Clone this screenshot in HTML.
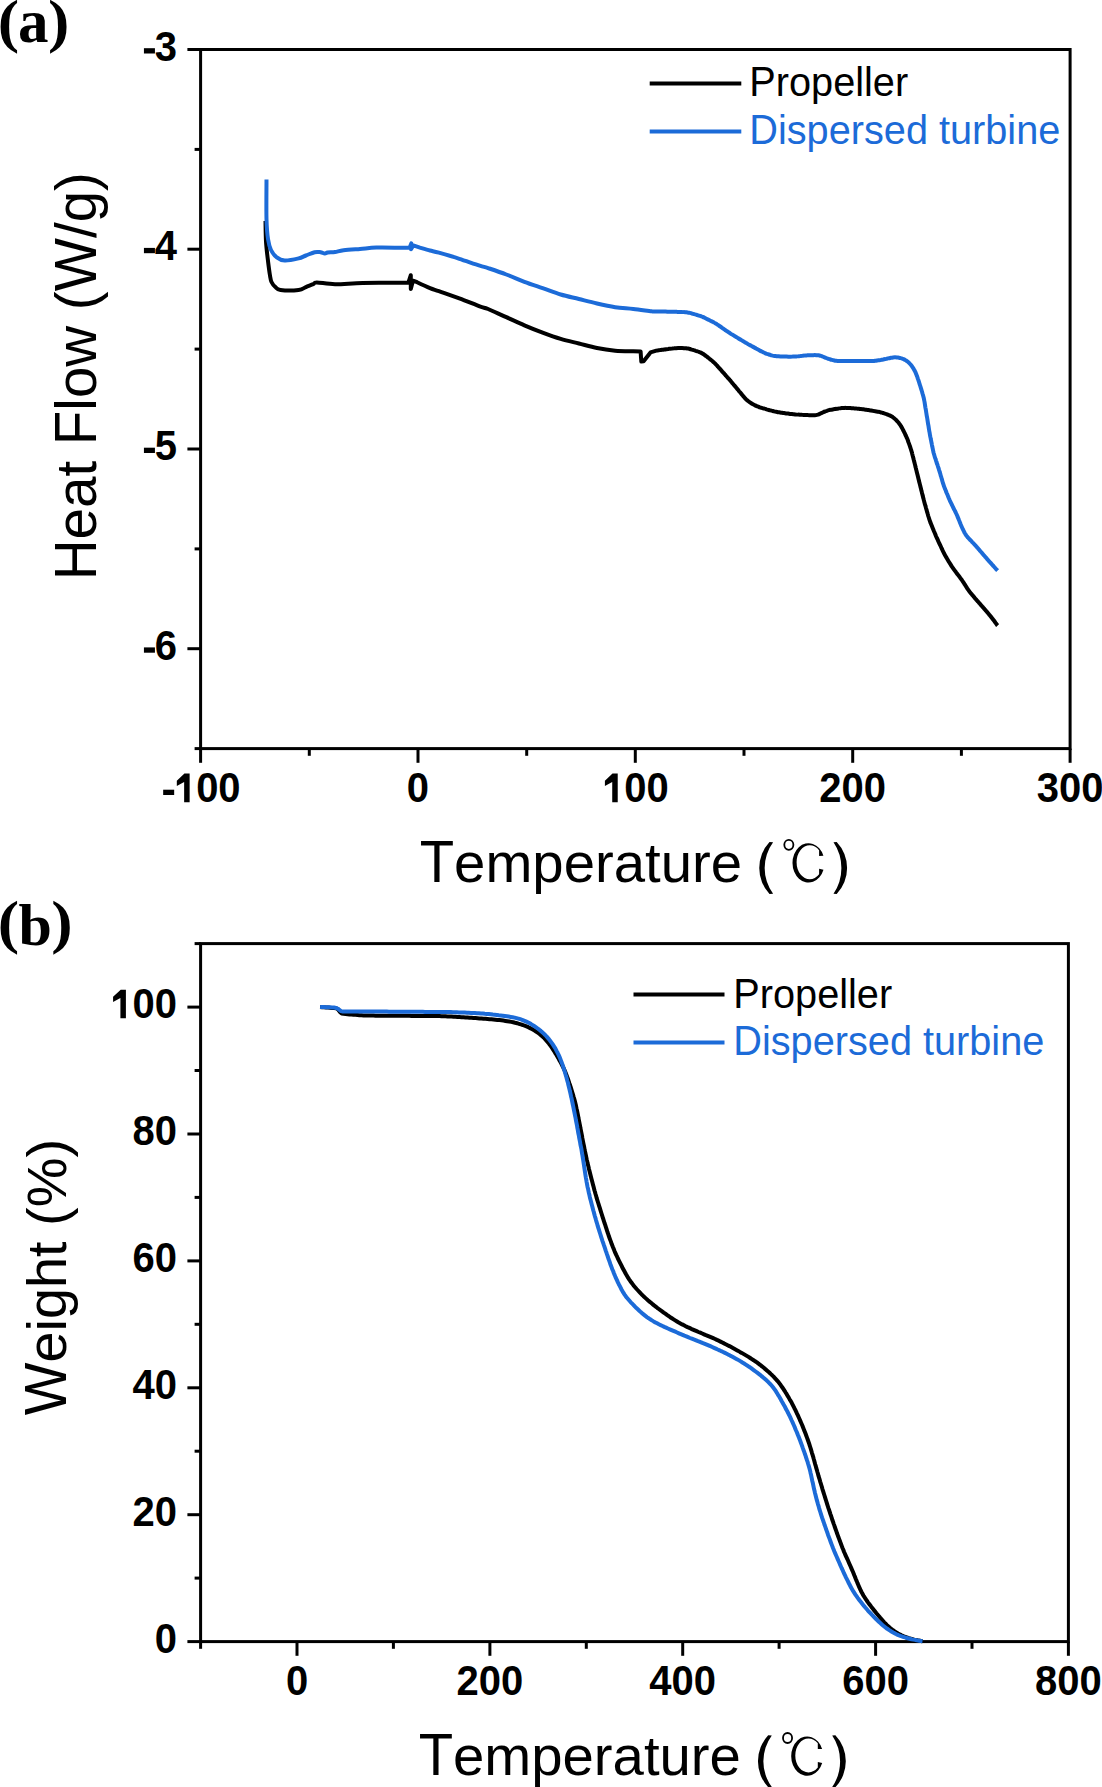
<!DOCTYPE html>
<html><head><meta charset="utf-8"><title>Figure</title>
<style>
html,body{margin:0;padding:0;background:#fff;}
body{width:1102px;height:1787px;overflow:hidden;}
svg{display:block;}
.t{stroke:#000;stroke-width:3;}
.c{fill:none;stroke-width:4;stroke-linejoin:round;stroke-linecap:butt;}
.tl{font-family:"Liberation Sans",sans-serif;font-weight:bold;font-size:40px;fill:#000;}
.lg{font-family:"Liberation Sans",sans-serif;font-size:39.6px;fill:#000;font-kerning:none;}
.lb{fill:#1c6bd8;}
.at{font-family:"Liberation Sans",sans-serif;font-size:56.3px;fill:#000;font-kerning:none;}
.at2{font-family:"Liberation Sans",sans-serif;font-size:56.2px;fill:#000;}
.pl{font-family:"Liberation Serif",serif;font-weight:bold;font-size:60px;fill:#000;}
.pl2{font-size:61px;}
</style></head>
<body>
<svg width="1102" height="1787" viewBox="0 0 1102 1787">
<rect x="200.6" y="49.5" width="869.5" height="699.1" fill="none" stroke="#000" stroke-width="3"/>
<line x1="200.6" y1="748.6" x2="200.6" y2="762.8000000000001" class="t"/>
<line x1="418.0" y1="748.6" x2="418.0" y2="762.8000000000001" class="t"/>
<line x1="635.3" y1="748.6" x2="635.3" y2="762.8000000000001" class="t"/>
<line x1="852.7" y1="748.6" x2="852.7" y2="762.8000000000001" class="t"/>
<line x1="1070.1" y1="748.6" x2="1070.1" y2="762.8000000000001" class="t"/>
<line x1="309.3" y1="748.6" x2="309.3" y2="755.8000000000001" class="t"/>
<line x1="526.7" y1="748.6" x2="526.7" y2="755.8000000000001" class="t"/>
<line x1="744.0" y1="748.6" x2="744.0" y2="755.8000000000001" class="t"/>
<line x1="961.4" y1="748.6" x2="961.4" y2="755.8000000000001" class="t"/>
<line x1="187.4" y1="49.5" x2="200.6" y2="49.5" class="t"/>
<line x1="187.4" y1="249.2" x2="200.6" y2="249.2" class="t"/>
<line x1="187.4" y1="449.0" x2="200.6" y2="449.0" class="t"/>
<line x1="187.4" y1="648.7" x2="200.6" y2="648.7" class="t"/>
<line x1="194.6" y1="149.4" x2="200.6" y2="149.4" class="t"/>
<line x1="194.6" y1="349.1" x2="200.6" y2="349.1" class="t"/>
<line x1="194.6" y1="548.9" x2="200.6" y2="548.9" class="t"/>
<line x1="194.6" y1="748.6" x2="200.6" y2="748.6" class="t"/>
<g transform="translate(0 802.2) scale(1 1.04) translate(0 -802.2)"><rect x="163.17" y="790.18" width="11" height="5.10"/><path d="M525,0 L525,1000 L150,803 L150,1058 L540,1409 L806,1409 L806,0 Z" transform="translate(173.89 802.2) scale(0.019531 -0.019531)"/><text x="196.14" y="802.2" class="tl">00</text></g>
<g transform="translate(0 802.2) scale(1 1.04) translate(0 -802.2)"><text x="406.85" y="802.2" class="tl">0</text></g>
<g transform="translate(0 802.2) scale(1 1.04) translate(0 -802.2)"><path d="M525,0 L525,1000 L150,803 L150,1058 L540,1409 L806,1409 L806,0 Z" transform="translate(601.98 802.2) scale(0.019531 -0.019531)"/><text x="624.23" y="802.2" class="tl">00</text></g>
<g transform="translate(0 802.2) scale(1 1.04) translate(0 -802.2)"><text x="819.36" y="802.2" class="tl">200</text></g>
<g transform="translate(0 802.2) scale(1 1.04) translate(0 -802.2)"><text x="1036.73" y="802.2" class="tl">300</text></g>
<g transform="translate(0 60.7) scale(1 1.04) translate(0 -60.7)"><rect x="143.93" y="48.68" width="11" height="5.10"/><text x="154.65" y="60.7" class="tl">3</text></g>
<g transform="translate(0 260.4) scale(1 1.04) translate(0 -260.4)"><rect x="143.93" y="248.38" width="11" height="5.10"/><text x="154.65" y="260.4" class="tl">4</text></g>
<g transform="translate(0 460.2) scale(1 1.04) translate(0 -460.2)"><rect x="143.93" y="448.18" width="11" height="5.10"/><text x="154.65" y="460.2" class="tl">5</text></g>
<g transform="translate(0 659.9) scale(1 1.04) translate(0 -659.9)"><rect x="143.93" y="647.88" width="11" height="5.10"/><text x="154.65" y="659.9" class="tl">6</text></g>
<path d="M265.5,221.0 C265.6,224.4 265.6,234.7 266.0,241.3 C266.4,248.0 267.3,255.2 268.0,260.9 C268.7,266.6 269.4,272.0 270.0,275.5 C270.6,279.0 270.6,280.1 271.5,282.0 C272.4,283.9 273.9,285.8 275.4,287.1 C276.9,288.4 276.6,289.5 280.5,290.0 C284.4,290.5 294.4,290.5 298.6,290.0 C302.8,289.5 303.5,288.1 305.9,287.1 C308.3,286.1 311.4,285.0 313.2,284.2 C315.0,283.4 313.2,282.4 316.8,282.4 C320.4,282.4 327.4,284.1 335.0,284.2 C342.6,284.3 351.9,283.2 362.7,283.0 C373.5,282.8 393.8,282.8 400.0,282.7 L408.4,282.7 L410.8,275.2 L410.8,289.0 L413.0,280.6 L417.1,282.2 C419.2,283.2 426.4,286.6 430.0,288.1 C433.6,289.6 434.0,289.5 438.9,291.2 C443.8,292.9 452.5,295.8 459.3,298.3 C466.1,300.8 474.9,304.6 479.7,306.4 C484.5,308.2 483.7,307.2 488.1,309.0 C492.5,310.8 500.2,314.5 506.3,317.2 C512.4,319.9 518.4,322.7 524.4,325.3 C530.4,327.9 536.5,330.3 542.6,332.6 C548.7,334.9 554.7,337.1 560.7,338.9 C566.8,340.7 572.9,342.0 578.9,343.5 C584.9,345.0 591.0,346.8 597.0,348.0 C603.0,349.2 609.2,350.1 615.2,350.7 C621.2,351.2 630.3,351.2 633.3,351.3 L640.6,351.4 L641.3,361.5 L643.6,361.3 L650.5,352.4 L656.3,350.6 C656.7,350.5 658.0,350.4 658.7,350.3 C659.4,350.2 659.8,350.1 660.4,350.0 C661.0,350.0 661.6,349.9 662.3,349.8 C662.9,349.7 663.6,349.6 664.2,349.5 C664.9,349.4 665.6,349.3 666.2,349.2 C666.9,349.1 667.5,349.0 668.2,349.0 C668.9,348.9 669.5,348.8 670.2,348.7 C670.8,348.6 671.5,348.5 672.2,348.5 C672.8,348.4 673.5,348.3 674.2,348.3 C674.8,348.2 675.5,348.2 676.1,348.2 C676.8,348.1 677.5,348.1 678.1,348.1 C678.8,348.1 679.5,348.1 680.1,348.1 C680.8,348.1 681.5,348.1 682.1,348.1 C682.8,348.1 683.5,348.1 684.1,348.2 C684.8,348.2 685.5,348.2 686.1,348.3 C686.8,348.4 687.4,348.5 688.1,348.6 C688.7,348.7 689.4,348.9 690.0,349.0 C690.6,349.2 691.3,349.4 691.9,349.6 C692.6,349.8 693.2,350.0 693.8,350.2 C694.5,350.4 695.1,350.6 695.7,350.8 C696.4,351.0 697.0,351.2 697.6,351.4 C698.3,351.6 698.9,351.8 699.5,352.1 C700.1,352.3 700.7,352.6 701.3,352.9 C701.9,353.2 702.5,353.5 703.0,353.9 C703.6,354.2 704.1,354.6 704.6,355.0 C705.2,355.4 705.7,355.8 706.2,356.2 C706.8,356.6 707.3,357.0 707.8,357.4 C708.3,357.8 708.9,358.2 709.4,358.7 C709.9,359.1 710.4,359.5 710.9,359.9 C711.5,360.3 712.0,360.7 712.5,361.2 C713.0,361.6 713.5,362.0 714.0,362.5 C714.5,362.9 714.9,363.4 715.4,363.9 C715.9,364.4 716.3,364.8 716.8,365.3 C717.2,365.8 717.7,366.3 718.1,366.8 C718.6,367.3 719.0,367.8 719.5,368.3 C719.9,368.8 720.4,369.3 720.8,369.8 C721.2,370.3 721.7,370.8 722.1,371.3 C722.6,371.8 723.0,372.3 723.5,372.8 C723.9,373.3 724.3,373.8 724.8,374.3 C725.2,374.8 725.7,375.3 726.1,375.8 C726.6,376.3 727.0,376.8 727.4,377.3 C727.9,377.8 728.3,378.3 728.8,378.8 C729.2,379.3 729.6,379.8 730.1,380.3 C730.5,380.8 730.9,381.3 731.3,381.8 C731.8,382.3 732.2,382.9 732.6,383.4 C733.1,383.9 733.5,384.4 733.9,384.9 C734.3,385.4 734.8,385.9 735.2,386.4 C735.6,387.0 736.1,387.5 736.5,388.0 C736.9,388.5 737.3,389.0 737.8,389.5 C738.2,390.0 738.6,390.5 739.0,391.1 C739.5,391.6 739.9,392.1 740.3,392.6 C740.7,393.1 741.2,393.6 741.6,394.1 C742.0,394.7 742.4,395.2 742.9,395.7 C743.3,396.2 743.7,396.7 744.2,397.2 C744.6,397.7 745.0,398.2 745.5,398.7 C745.9,399.2 746.4,399.6 746.9,400.1 C747.4,400.5 747.9,400.9 748.4,401.3 C748.9,401.7 749.5,402.1 750.0,402.5 C750.6,402.8 751.2,403.2 751.7,403.5 C752.3,403.9 752.9,404.2 753.5,404.5 C754.0,404.9 754.6,405.2 755.2,405.5 C755.8,405.7 756.4,406.0 757.0,406.3 C757.6,406.5 758.3,406.7 758.9,407.0 C759.5,407.2 760.2,407.4 760.8,407.6 C761.4,407.8 762.1,408.0 762.7,408.2 C763.3,408.3 764.0,408.5 764.6,408.7 C765.3,408.9 765.9,409.1 766.5,409.3 C767.2,409.5 767.8,409.7 768.5,409.9 C769.1,410.1 769.7,410.2 770.4,410.4 C771.0,410.6 771.7,410.8 772.3,410.9 C773.0,411.1 773.6,411.3 774.2,411.4 C774.9,411.6 775.5,411.7 776.2,411.8 C776.9,411.9 777.5,412.1 778.2,412.2 C778.8,412.3 779.5,412.4 780.1,412.5 C780.8,412.6 781.5,412.7 782.1,412.8 C782.8,412.9 783.4,413.0 784.1,413.1 C784.8,413.2 785.4,413.3 786.1,413.4 C786.7,413.5 787.4,413.6 788.1,413.6 C788.7,413.7 789.4,413.8 790.0,413.9 C790.7,414.0 791.4,414.1 792.0,414.1 C792.7,414.2 793.4,414.3 794.0,414.3 C794.7,414.4 795.4,414.4 796.0,414.5 C796.7,414.5 797.4,414.5 798.0,414.6 C798.7,414.6 799.3,414.6 800.0,414.7 C800.7,414.7 801.3,414.7 802.0,414.8 C802.7,414.8 803.3,414.8 804.0,414.9 C804.7,414.9 805.3,414.9 806.0,415.0 C806.7,415.0 807.3,415.0 808.0,415.1 C808.7,415.1 809.3,415.2 810.0,415.2 C810.7,415.2 811.3,415.3 812.0,415.3 C812.7,415.3 813.3,415.3 814.0,415.3 C814.6,415.3 815.3,415.2 815.9,415.1 C816.5,415.0 817.1,414.9 817.8,414.7 C818.4,414.5 819.0,414.2 819.6,414.0 C820.2,413.7 820.8,413.4 821.4,413.2 C822.0,412.9 822.6,412.6 823.2,412.3 C823.8,412.0 824.4,411.7 825.0,411.5 C825.6,411.2 826.2,411.0 826.9,410.8 C827.5,410.6 828.1,410.4 828.8,410.2 C829.4,410.0 830.1,409.9 830.7,409.8 C831.4,409.6 832.0,409.5 832.7,409.4 C833.3,409.3 834.0,409.2 834.6,409.1 C835.3,409.0 836.0,408.9 836.6,408.8 C837.3,408.6 837.9,408.5 838.6,408.4 C839.2,408.3 839.9,408.2 840.6,408.2 C841.2,408.1 841.9,408.0 842.5,407.9 C843.2,407.9 843.9,407.9 844.5,407.9 C845.2,407.8 845.9,407.9 846.5,407.9 C847.2,407.9 847.9,407.9 848.5,408.0 C849.2,408.0 849.8,408.1 850.5,408.1 C851.2,408.2 851.8,408.2 852.5,408.3 C853.2,408.3 853.8,408.4 854.5,408.4 C855.2,408.5 855.8,408.5 856.5,408.6 C857.2,408.6 857.8,408.7 858.5,408.7 C859.2,408.8 859.8,408.9 860.5,408.9 C861.1,409.0 861.8,409.1 862.5,409.2 C863.1,409.3 863.8,409.4 864.4,409.5 C865.1,409.6 865.8,409.7 866.4,409.8 C867.1,409.9 867.7,410.0 868.4,410.1 C869.1,410.2 869.7,410.3 870.4,410.4 C871.0,410.5 871.7,410.6 872.3,410.7 C873.0,410.9 873.7,411.0 874.3,411.1 C875.0,411.2 875.6,411.3 876.3,411.4 C876.9,411.5 877.6,411.6 878.3,411.8 C878.9,411.9 879.6,412.0 880.2,412.2 C880.9,412.3 881.5,412.5 882.1,412.7 C882.8,412.8 883.4,413.0 884.0,413.3 C884.7,413.5 885.3,413.7 885.9,413.9 C886.6,414.1 887.2,414.4 887.8,414.6 C888.4,414.9 889.0,415.1 889.6,415.4 C890.2,415.7 890.8,415.9 891.4,416.3 C892.0,416.6 892.5,416.9 893.0,417.3 C893.6,417.7 894.1,418.1 894.6,418.6 C895.0,419.0 895.5,419.5 896.0,419.9 C896.5,420.4 896.9,420.9 897.4,421.4 C897.8,421.8 898.3,422.3 898.7,422.8 C899.1,423.4 899.5,423.9 899.9,424.4 C900.3,424.9 900.6,425.5 901.0,426.1 C901.3,426.6 901.6,427.2 902.0,427.8 C902.3,428.4 902.6,429.0 902.9,429.6 C903.2,430.2 903.5,430.8 903.8,431.4 C904.1,432.0 904.4,432.6 904.7,433.2 C905.0,433.8 905.3,434.4 905.5,435.0 C905.8,435.6 906.1,436.2 906.4,436.8 C906.6,437.4 906.9,438.0 907.2,438.6 C907.4,439.2 907.6,439.9 907.9,440.5 C908.1,441.1 908.3,441.7 908.5,442.4 C908.8,443.0 909.0,443.6 909.2,444.2 C909.4,444.9 909.7,445.5 909.9,446.1 C910.1,446.8 910.3,447.4 910.5,448.0 C910.7,448.7 910.9,449.3 911.1,449.9 C911.3,450.6 911.5,451.2 911.7,451.8 C911.9,452.5 912.1,453.1 912.2,453.8 C912.4,454.4 912.6,455.1 912.7,455.7 C912.9,456.4 913.1,457.0 913.2,457.7 C913.4,458.3 913.5,458.9 913.7,459.6 C913.9,460.2 914.0,460.9 914.2,461.5 C914.4,462.2 914.5,462.8 914.7,463.5 C914.8,464.1 915.0,464.8 915.2,465.4 C915.3,466.1 915.5,466.7 915.6,467.4 C915.8,468.0 916.0,468.7 916.1,469.3 C916.3,470.0 916.4,470.6 916.6,471.2 C916.8,471.9 916.9,472.5 917.1,473.2 C917.2,473.8 917.4,474.5 917.6,475.1 C917.7,475.8 917.9,476.4 918.1,477.1 C918.2,477.7 918.4,478.4 918.5,479.0 C918.7,479.7 918.9,480.3 919.0,481.0 C919.2,481.6 919.3,482.3 919.5,482.9 C919.7,483.5 919.8,484.2 920.0,484.8 C920.1,485.5 920.3,486.1 920.5,486.8 C920.6,487.4 920.8,488.1 921.0,488.7 C921.1,489.4 921.3,490.0 921.4,490.7 C921.6,491.3 921.8,492.0 921.9,492.6 C922.1,493.3 922.3,493.9 922.4,494.5 C922.6,495.2 922.7,495.8 922.9,496.5 C923.1,497.1 923.2,497.8 923.4,498.4 C923.6,499.1 923.7,499.7 923.9,500.4 C924.1,501.0 924.2,501.7 924.4,502.3 C924.6,502.9 924.7,503.6 924.9,504.2 C925.1,504.9 925.3,505.5 925.5,506.2 C925.7,506.8 925.8,507.4 926.0,508.1 C926.2,508.7 926.4,509.4 926.6,510.0 C926.8,510.6 926.9,511.3 927.1,511.9 C927.3,512.6 927.5,513.2 927.7,513.9 C927.9,514.5 928.0,515.1 928.2,515.8 C928.4,516.4 928.6,517.1 928.8,517.7 C929.0,518.3 929.2,519.0 929.4,519.6 C929.6,520.2 929.8,520.9 930.1,521.5 C930.3,522.1 930.5,522.7 930.8,523.4 C931.0,524.0 931.3,524.6 931.5,525.2 C931.8,525.8 932.0,526.4 932.3,527.1 C932.5,527.7 932.8,528.3 933.0,528.9 C933.3,529.5 933.5,530.1 933.8,530.8 C934.1,531.4 934.3,532.0 934.6,532.6 C934.8,533.2 935.1,533.8 935.4,534.5 C935.6,535.1 935.9,535.7 936.1,536.3 C936.4,536.9 936.7,537.5 936.9,538.1 C937.2,538.7 937.5,539.3 937.8,539.9 C938.0,540.6 938.3,541.2 938.6,541.8 C938.9,542.4 939.2,543.0 939.4,543.6 C939.7,544.2 940.0,544.8 940.3,545.4 C940.6,546.0 940.8,546.6 941.1,547.2 C941.4,547.8 941.7,548.4 942.0,549.0 C942.3,549.6 942.5,550.2 942.8,550.8 C943.1,551.4 943.4,552.0 943.7,552.6 C944.0,553.2 944.3,553.8 944.6,554.4 C944.9,555.0 945.2,555.6 945.6,556.2 C945.9,556.7 946.2,557.3 946.6,557.9 C946.9,558.5 947.3,559.0 947.6,559.6 C947.9,560.2 948.3,560.8 948.6,561.3 C949.0,561.9 949.3,562.5 949.7,563.0 C950.0,563.6 950.4,564.2 950.7,564.7 C951.1,565.3 951.4,565.9 951.8,566.4 C952.2,567.0 952.5,567.5 952.9,568.1 C953.3,568.6 953.7,569.2 954.1,569.7 C954.5,570.3 954.9,570.8 955.3,571.3 C955.7,571.8 956.1,572.4 956.5,572.9 C956.9,573.4 957.3,574.0 957.7,574.5 C958.1,575.0 958.5,575.5 958.9,576.1 C959.3,576.6 959.7,577.1 960.1,577.7 C960.5,578.2 960.9,578.7 961.3,579.3 C961.7,579.8 962.1,580.4 962.5,580.9 C962.8,581.5 963.2,582.0 963.6,582.6 C963.9,583.1 964.3,583.7 964.6,584.3 C965.0,584.8 965.3,585.4 965.7,586.0 C966.1,586.5 966.4,587.1 966.8,587.7 C967.1,588.2 967.5,588.8 967.9,589.3 C968.3,589.9 968.6,590.4 969.0,590.9 C969.4,591.5 969.8,592.0 970.2,592.5 C970.7,593.1 971.1,593.6 971.5,594.1 C971.9,594.6 972.4,595.1 972.8,595.6 C973.2,596.1 973.7,596.6 974.1,597.1 C974.5,597.6 975.0,598.2 975.4,598.7 C975.8,599.2 976.3,599.7 976.7,600.2 C977.1,600.7 977.6,601.2 978.0,601.7 C978.5,602.2 978.9,602.7 979.3,603.2 C979.8,603.7 980.2,604.2 980.7,604.7 C981.1,605.2 981.5,605.7 982.0,606.2 C982.4,606.7 982.9,607.2 983.3,607.7 C983.7,608.2 984.2,608.7 984.6,609.2 C985.0,609.7 985.5,610.2 985.9,610.7 C986.3,611.2 986.8,611.7 987.2,612.2 C987.6,612.8 988.1,613.3 988.5,613.8 C988.9,614.3 989.4,614.8 989.8,615.3 C990.2,615.8 990.6,616.3 991.1,616.9 C991.5,617.4 991.9,617.9 992.3,618.4 C992.7,618.9 993.1,619.5 993.5,620.0 C993.9,620.5 994.3,621.1 994.7,621.6 C995.0,622.1 995.4,622.6 995.7,623.0 C996.1,623.5 996.3,623.8 996.6,624.3 C996.9,624.7 997.4,625.5 997.6,625.7" class="c" stroke="#000"/>
<path d="M266.5,179.5 C266.5,186.2 266.2,209.6 266.5,219.5 C266.8,229.4 267.2,233.9 268.0,239.0 C268.8,244.1 269.5,246.9 271.0,250.0 C272.5,253.1 274.5,255.6 276.8,257.3 C279.1,259.1 281.2,260.3 284.8,260.5 C288.4,260.7 295.1,259.2 298.6,258.4 C302.1,257.6 303.2,256.5 305.9,255.5 C308.6,254.5 312.2,252.8 314.6,252.2 C317.0,251.6 318.8,252.0 320.5,252.2 C322.2,252.4 323.6,253.5 324.8,253.6 C326.0,253.7 326.0,252.8 327.7,252.5 C329.4,252.2 332.4,252.4 335.0,252.0 C337.6,251.6 339.4,250.7 343.6,250.2 C347.8,249.7 354.6,249.3 360.0,248.9 C365.4,248.5 369.6,247.8 376.3,247.6 C383.0,247.4 396.1,247.7 400.0,247.7 L409.6,247.7 L411.3,243.4 L411.0,249.2 L413.3,245.4 L420.0,247.6 C421.7,248.1 426.9,249.7 430.0,250.5 C433.1,251.3 434.0,251.3 438.9,252.7 C443.8,254.1 452.5,256.6 459.3,258.8 C466.1,261.0 474.9,264.1 479.7,265.6 C484.5,267.2 483.7,266.6 488.1,268.1 C492.5,269.6 500.2,272.2 506.3,274.5 C512.4,276.8 518.4,279.5 524.4,281.8 C530.4,284.1 536.5,286.0 542.6,288.1 C548.7,290.2 554.7,292.7 560.7,294.5 C566.8,296.3 572.9,297.5 578.9,299.0 C584.9,300.5 591.0,302.1 597.0,303.5 C603.0,304.9 609.2,306.3 615.2,307.2 C621.2,308.1 627.2,308.3 633.3,309.0 C639.3,309.7 648.1,310.9 651.5,311.3 C654.9,311.7 653.3,311.3 653.9,311.4 C654.6,311.4 655.0,311.4 655.6,311.4 C656.2,311.4 656.9,311.4 657.5,311.4 C658.2,311.4 658.8,311.5 659.5,311.5 C660.2,311.5 660.8,311.5 661.5,311.5 C662.2,311.5 662.8,311.6 663.5,311.6 C664.2,311.6 664.8,311.6 665.5,311.6 C666.2,311.6 666.9,311.6 667.5,311.7 C668.2,311.7 668.9,311.7 669.5,311.7 C670.2,311.7 670.9,311.7 671.5,311.7 C672.2,311.8 672.9,311.8 673.5,311.8 C674.2,311.8 674.9,311.8 675.5,311.8 C676.2,311.8 676.9,311.9 677.5,311.9 C678.2,311.9 678.9,311.9 679.5,311.9 C680.2,311.9 680.9,312.0 681.5,312.0 C682.2,312.0 682.9,312.0 683.5,312.1 C684.2,312.1 684.9,312.1 685.5,312.2 C686.2,312.3 686.8,312.4 687.5,312.5 C688.1,312.6 688.8,312.7 689.4,312.8 C690.1,313.0 690.7,313.2 691.4,313.3 C692.0,313.5 692.7,313.7 693.3,313.9 C693.9,314.1 694.6,314.2 695.2,314.4 C695.9,314.6 696.5,314.8 697.1,315.0 C697.8,315.2 698.4,315.4 699.1,315.6 C699.7,315.8 700.3,316.0 700.9,316.2 C701.6,316.5 702.2,316.7 702.8,317.0 C703.4,317.2 704.0,317.5 704.6,317.8 C705.2,318.1 705.8,318.4 706.4,318.7 C707.0,319.0 707.6,319.3 708.2,319.6 C708.8,319.9 709.4,320.2 710.0,320.5 C710.6,320.8 711.2,321.1 711.8,321.4 C712.4,321.7 713.0,322.0 713.6,322.3 C714.1,322.6 714.7,322.9 715.3,323.3 C715.9,323.6 716.4,324.0 717.0,324.3 C717.6,324.7 718.1,325.0 718.7,325.4 C719.2,325.8 719.8,326.2 720.3,326.5 C720.9,326.9 721.4,327.3 722.0,327.7 C722.5,328.1 723.1,328.5 723.6,328.8 C724.2,329.2 724.7,329.6 725.2,330.0 C725.8,330.4 726.3,330.8 726.9,331.1 C727.4,331.5 728.0,331.9 728.5,332.3 C729.1,332.6 729.7,333.0 730.2,333.3 C730.8,333.7 731.4,334.1 731.9,334.4 C732.5,334.8 733.1,335.1 733.6,335.4 C734.2,335.8 734.8,336.1 735.4,336.5 C735.9,336.8 736.5,337.2 737.1,337.5 C737.6,337.9 738.2,338.2 738.8,338.6 C739.4,338.9 739.9,339.2 740.5,339.6 C741.1,339.9 741.6,340.3 742.2,340.6 C742.8,341.0 743.4,341.3 743.9,341.6 C744.5,342.0 745.1,342.3 745.7,342.7 C746.2,343.0 746.8,343.3 747.4,343.7 C748.0,344.0 748.6,344.3 749.1,344.7 C749.7,345.0 750.3,345.3 750.9,345.6 C751.5,346.0 752.1,346.3 752.6,346.6 C753.2,346.9 753.8,347.2 754.4,347.6 C755.0,347.9 755.6,348.2 756.1,348.5 C756.7,348.8 757.3,349.2 757.9,349.5 C758.5,349.8 759.1,350.1 759.7,350.5 C760.2,350.8 760.8,351.1 761.4,351.4 C762.0,351.7 762.6,352.0 763.2,352.3 C763.8,352.6 764.4,352.9 765.0,353.1 C765.6,353.4 766.2,353.6 766.9,353.9 C767.5,354.1 768.1,354.3 768.8,354.5 C769.4,354.7 770.0,354.9 770.7,355.1 C771.3,355.3 772.0,355.4 772.6,355.6 C773.2,355.7 773.9,355.8 774.6,355.9 C775.2,356.0 775.9,356.1 776.5,356.2 C777.2,356.2 777.9,356.3 778.5,356.3 C779.2,356.4 779.8,356.4 780.5,356.4 C781.2,356.4 781.8,356.4 782.5,356.5 C783.2,356.5 783.9,356.5 784.5,356.5 C785.2,356.6 785.9,356.6 786.5,356.6 C787.2,356.6 787.9,356.6 788.5,356.7 C789.2,356.7 789.9,356.7 790.5,356.7 C791.2,356.7 791.9,356.7 792.5,356.6 C793.2,356.6 793.9,356.6 794.5,356.5 C795.2,356.5 795.8,356.4 796.5,356.4 C797.2,356.3 797.8,356.2 798.5,356.2 C799.2,356.1 799.8,356.0 800.5,356.0 C801.2,355.9 801.8,355.8 802.5,355.8 C803.2,355.7 803.8,355.6 804.5,355.6 C805.1,355.5 805.8,355.5 806.5,355.4 C807.1,355.4 807.8,355.3 808.5,355.3 C809.1,355.3 809.8,355.3 810.5,355.2 C811.1,355.2 811.8,355.2 812.5,355.2 C813.1,355.2 813.8,355.1 814.5,355.1 C815.1,355.1 815.8,355.1 816.5,355.2 C817.1,355.2 817.8,355.3 818.4,355.3 C819.1,355.4 819.7,355.6 820.3,355.7 C821.0,355.9 821.6,356.1 822.2,356.4 C822.8,356.6 823.4,356.8 824.0,357.1 C824.6,357.3 825.2,357.6 825.9,357.9 C826.5,358.1 827.1,358.4 827.7,358.6 C828.3,358.8 829.0,359.0 829.6,359.2 C830.2,359.4 830.9,359.6 831.5,359.8 C832.2,360.0 832.8,360.2 833.5,360.3 C834.1,360.4 834.8,360.6 835.4,360.7 C836.1,360.8 836.7,360.8 837.4,360.9 C838.0,360.9 838.7,360.9 839.4,361.0 C840.0,361.0 840.7,361.0 841.4,361.0 C842.0,361.0 842.7,361.0 843.4,361.0 C844.0,361.0 844.7,361.0 845.4,361.0 C846.0,361.0 846.7,361.0 847.4,361.0 C848.0,361.0 848.7,361.0 849.4,361.0 C850.0,361.0 850.7,361.0 851.4,361.0 C852.0,361.0 852.7,361.0 853.4,361.0 C854.1,361.0 854.7,361.0 855.4,361.0 C856.1,361.0 856.7,361.0 857.4,361.0 C858.1,361.0 858.7,361.0 859.4,361.0 C860.1,361.0 860.7,361.0 861.4,361.0 C862.1,361.0 862.7,361.0 863.4,361.0 C864.1,361.0 864.7,361.0 865.4,361.0 C866.1,361.0 866.7,361.0 867.4,361.0 C868.1,361.0 868.7,361.0 869.4,361.0 C870.1,361.0 870.7,361.0 871.4,361.0 C872.1,361.0 872.7,360.9 873.4,360.9 C874.1,360.9 874.7,360.8 875.4,360.7 C876.1,360.7 876.7,360.6 877.4,360.5 C878.0,360.4 878.7,360.3 879.3,360.2 C880.0,360.1 880.7,360.0 881.3,359.8 C882.0,359.7 882.6,359.6 883.3,359.5 C883.9,359.3 884.6,359.2 885.3,359.1 C885.9,358.9 886.6,358.8 887.2,358.6 C887.9,358.5 888.5,358.4 889.2,358.2 C889.8,358.1 890.5,357.9 891.1,357.8 C891.8,357.7 892.4,357.6 893.1,357.5 C893.7,357.4 894.4,357.3 895.0,357.3 C895.7,357.3 896.3,357.3 897.0,357.4 C897.6,357.5 898.3,357.6 898.9,357.7 C899.6,357.8 900.2,358.0 900.8,358.2 C901.5,358.4 902.1,358.6 902.7,358.8 C903.3,359.1 903.9,359.3 904.5,359.6 C905.1,359.9 905.6,360.3 906.2,360.6 C906.7,361.0 907.3,361.4 907.8,361.8 C908.3,362.2 908.8,362.6 909.3,363.1 C909.7,363.5 910.2,364.0 910.6,364.5 C911.0,365.0 911.4,365.5 911.8,366.1 C912.2,366.6 912.5,367.2 912.9,367.7 C913.3,368.3 913.6,368.9 913.9,369.4 C914.3,370.0 914.6,370.6 914.9,371.2 C915.2,371.8 915.5,372.4 915.8,373.0 C916.0,373.6 916.3,374.2 916.5,374.8 C916.7,375.4 917.0,376.1 917.2,376.7 C917.4,377.3 917.6,378.0 917.8,378.6 C918.1,379.2 918.3,379.9 918.5,380.5 C918.7,381.1 918.9,381.8 919.1,382.4 C919.3,383.0 919.5,383.7 919.7,384.3 C919.9,384.9 920.1,385.6 920.3,386.2 C920.5,386.8 920.7,387.5 920.9,388.1 C921.1,388.8 921.3,389.4 921.5,390.0 C921.7,390.7 921.9,391.3 922.1,392.0 C922.2,392.6 922.4,393.2 922.6,393.9 C922.8,394.5 923.0,395.2 923.2,395.8 C923.3,396.4 923.5,397.1 923.7,397.7 C923.8,398.4 924.0,399.0 924.1,399.7 C924.2,400.3 924.3,401.0 924.5,401.7 C924.6,402.3 924.7,403.0 924.8,403.6 C924.9,404.3 925.0,404.9 925.1,405.6 C925.2,406.3 925.3,406.9 925.4,407.6 C925.6,408.2 925.7,408.9 925.8,409.6 C925.9,410.2 926.0,410.9 926.1,411.5 C926.2,412.2 926.3,412.9 926.4,413.5 C926.5,414.2 926.6,414.8 926.7,415.5 C926.8,416.2 927.0,416.8 927.1,417.5 C927.2,418.1 927.3,418.8 927.4,419.4 C927.5,420.1 927.6,420.8 927.7,421.4 C927.8,422.1 927.9,422.7 928.0,423.4 C928.1,424.1 928.2,424.7 928.4,425.4 C928.5,426.0 928.6,426.7 928.7,427.4 C928.8,428.0 928.9,428.7 929.0,429.3 C929.1,430.0 929.2,430.6 929.3,431.3 C929.5,432.0 929.6,432.6 929.7,433.3 C929.8,433.9 929.9,434.6 930.0,435.2 C930.2,435.9 930.3,436.6 930.4,437.2 C930.6,437.9 930.7,438.5 930.8,439.2 C930.9,439.8 931.1,440.5 931.2,441.1 C931.3,441.8 931.5,442.5 931.6,443.1 C931.7,443.8 931.9,444.4 932.0,445.1 C932.1,445.7 932.2,446.4 932.4,447.0 C932.5,447.7 932.6,448.3 932.8,449.0 C932.9,449.7 933.0,450.3 933.2,451.0 C933.3,451.6 933.5,452.3 933.6,452.9 C933.8,453.5 934.0,454.2 934.2,454.8 C934.4,455.5 934.5,456.1 934.7,456.7 C934.9,457.4 935.2,458.0 935.4,458.7 C935.6,459.3 935.8,459.9 936.0,460.6 C936.2,461.2 936.4,461.8 936.6,462.5 C936.8,463.1 937.0,463.7 937.3,464.4 C937.5,465.0 937.7,465.6 937.9,466.3 C938.1,466.9 938.3,467.5 938.5,468.2 C938.7,468.8 938.9,469.4 939.1,470.1 C939.3,470.7 939.5,471.3 939.7,472.0 C939.9,472.6 940.1,473.3 940.3,473.9 C940.5,474.5 940.6,475.2 940.8,475.8 C941.0,476.5 941.2,477.1 941.4,477.7 C941.6,478.4 941.8,479.0 942.0,479.7 C942.1,480.3 942.3,481.0 942.5,481.6 C942.7,482.2 942.9,482.9 943.1,483.5 C943.3,484.1 943.5,484.8 943.7,485.4 C943.9,486.0 944.2,486.7 944.4,487.3 C944.6,487.9 944.9,488.5 945.1,489.2 C945.4,489.8 945.6,490.4 945.9,491.0 C946.1,491.6 946.4,492.3 946.6,492.9 C946.9,493.5 947.1,494.1 947.4,494.7 C947.7,495.3 947.9,496.0 948.2,496.6 C948.4,497.2 948.7,497.8 948.9,498.4 C949.2,499.0 949.5,499.6 949.7,500.2 C950.0,500.9 950.3,501.5 950.6,502.1 C950.9,502.7 951.2,503.3 951.5,503.9 C951.7,504.5 952.0,505.1 952.3,505.7 C952.6,506.3 952.9,506.9 953.2,507.5 C953.5,508.1 953.8,508.7 954.1,509.3 C954.4,509.9 954.7,510.4 955.0,511.0 C955.3,511.6 955.6,512.2 955.9,512.9 C956.2,513.5 956.4,514.1 956.7,514.7 C957.0,515.3 957.2,515.9 957.5,516.5 C957.8,517.1 958.0,517.7 958.3,518.4 C958.5,519.0 958.8,519.6 959.0,520.2 C959.3,520.8 959.5,521.5 959.8,522.1 C960.0,522.7 960.3,523.3 960.5,523.9 C960.8,524.5 961.0,525.2 961.3,525.8 C961.6,526.4 961.8,527.0 962.1,527.6 C962.4,528.2 962.7,528.8 962.9,529.4 C963.2,530.0 963.5,530.6 963.8,531.2 C964.1,531.8 964.4,532.4 964.7,533.0 C965.1,533.6 965.4,534.1 965.8,534.7 C966.1,535.2 966.5,535.8 966.9,536.3 C967.3,536.8 967.8,537.3 968.2,537.8 C968.6,538.3 969.1,538.8 969.6,539.3 C970.0,539.8 970.5,540.2 970.9,540.7 C971.4,541.2 971.9,541.7 972.3,542.2 C972.8,542.6 973.3,543.1 973.7,543.6 C974.2,544.1 974.6,544.6 975.1,545.1 C975.5,545.6 975.9,546.1 976.4,546.6 C976.8,547.1 977.3,547.6 977.7,548.1 C978.1,548.6 978.6,549.1 979.0,549.6 C979.4,550.1 979.9,550.6 980.3,551.1 C980.8,551.6 981.2,552.1 981.6,552.6 C982.1,553.2 982.5,553.7 982.9,554.2 C983.4,554.7 983.8,555.2 984.2,555.7 C984.7,556.2 985.1,556.7 985.5,557.2 C986.0,557.7 986.4,558.2 986.9,558.7 C987.3,559.2 987.7,559.7 988.2,560.2 C988.6,560.7 989.0,561.2 989.5,561.7 C989.9,562.2 990.4,562.7 990.8,563.2 C991.3,563.7 991.7,564.2 992.2,564.7 C992.6,565.2 993.1,565.7 993.5,566.2 C993.9,566.6 994.4,567.1 994.8,567.6 C995.2,568.0 995.5,568.3 995.9,568.8 C996.4,569.3 997.3,570.3 997.6,570.6" class="c" stroke="#1c6bd8"/>
<line x1="649.7" y1="83.4" x2="741.3" y2="83.4" stroke="#000" stroke-width="4"/>
<line x1="649.7" y1="131.4" x2="741.3" y2="131.4" stroke="#1c6bd8" stroke-width="4"/>
<g transform="translate(749.3 96)"><g transform="scale(1 1.03)"><text x="0.00" y="0" class="lg" style="font-size:39.7px;" transform="scale(1 1.035)">P</text><text x="26.48" y="0" class="lg" style="font-size:39.7px;">ropeller</text></g></g>
<g transform="translate(749.3 143.8)"><g transform="scale(1 1.03)"><text x="0.00" y="0" class="lg lb" style="font-size:39.7px;" transform="scale(1 1.035)">D</text><text x="28.67" y="0" class="lg lb" style="font-size:39.7px;">ispersed turbine</text></g></g>
<rect x="200.6" y="943.6" width="867.8" height="698.0" fill="none" stroke="#000" stroke-width="3"/>
<line x1="297.0" y1="1641.6" x2="297.0" y2="1655.8" class="t"/>
<line x1="489.9" y1="1641.6" x2="489.9" y2="1655.8" class="t"/>
<line x1="682.7" y1="1641.6" x2="682.7" y2="1655.8" class="t"/>
<line x1="875.6" y1="1641.6" x2="875.6" y2="1655.8" class="t"/>
<line x1="1068.4" y1="1641.6" x2="1068.4" y2="1655.8" class="t"/>
<line x1="200.6" y1="1641.6" x2="200.6" y2="1648.8" class="t"/>
<line x1="393.4" y1="1641.6" x2="393.4" y2="1648.8" class="t"/>
<line x1="586.3" y1="1641.6" x2="586.3" y2="1648.8" class="t"/>
<line x1="779.1" y1="1641.6" x2="779.1" y2="1648.8" class="t"/>
<line x1="972.0" y1="1641.6" x2="972.0" y2="1648.8" class="t"/>
<line x1="187.4" y1="1641.6" x2="200.6" y2="1641.6" class="t"/>
<line x1="187.4" y1="1514.7" x2="200.6" y2="1514.7" class="t"/>
<line x1="187.4" y1="1387.8" x2="200.6" y2="1387.8" class="t"/>
<line x1="187.4" y1="1260.9" x2="200.6" y2="1260.9" class="t"/>
<line x1="187.4" y1="1134.0" x2="200.6" y2="1134.0" class="t"/>
<line x1="187.4" y1="1007.1" x2="200.6" y2="1007.1" class="t"/>
<line x1="194.6" y1="1578.1" x2="200.6" y2="1578.1" class="t"/>
<line x1="194.6" y1="1451.2" x2="200.6" y2="1451.2" class="t"/>
<line x1="194.6" y1="1324.3" x2="200.6" y2="1324.3" class="t"/>
<line x1="194.6" y1="1197.4" x2="200.6" y2="1197.4" class="t"/>
<line x1="194.6" y1="1070.5" x2="200.6" y2="1070.5" class="t"/>
<line x1="194.6" y1="943.6" x2="200.6" y2="943.6" class="t"/>
<g transform="translate(0 1695.2) scale(1 1.04) translate(0 -1695.2)"><text x="285.90" y="1695.2" class="tl">0</text></g>
<g transform="translate(0 1695.2) scale(1 1.04) translate(0 -1695.2)"><text x="456.50" y="1695.2" class="tl">200</text></g>
<g transform="translate(0 1695.2) scale(1 1.04) translate(0 -1695.2)"><text x="649.34" y="1695.2" class="tl">400</text></g>
<g transform="translate(0 1695.2) scale(1 1.04) translate(0 -1695.2)"><text x="842.19" y="1695.2" class="tl">600</text></g>
<g transform="translate(0 1695.2) scale(1 1.04) translate(0 -1695.2)"><text x="1035.03" y="1695.2" class="tl">800</text></g>
<g transform="translate(0 1652.8) scale(1 1.04) translate(0 -1652.8)"><text x="154.65" y="1652.8" class="tl">0</text></g>
<g transform="translate(0 1525.9) scale(1 1.04) translate(0 -1525.9)"><text x="132.41" y="1525.9" class="tl">20</text></g>
<g transform="translate(0 1399.0) scale(1 1.04) translate(0 -1399.0)"><text x="132.41" y="1399.0" class="tl">40</text></g>
<g transform="translate(0 1272.1) scale(1 1.04) translate(0 -1272.1)"><text x="132.41" y="1272.1" class="tl">60</text></g>
<g transform="translate(0 1145.2) scale(1 1.04) translate(0 -1145.2)"><text x="132.41" y="1145.2" class="tl">80</text></g>
<g transform="translate(0 1018.3) scale(1 1.04) translate(0 -1018.3)"><path d="M525,0 L525,1000 L150,803 L150,1058 L540,1409 L806,1409 L806,0 Z" transform="translate(110.16 1018.3) scale(0.019531 -0.019531)"/><text x="132.41" y="1018.3" class="tl">00</text></g>
<path d="M320.1,1007.0 L322.1,1007.2 L324.1,1007.3 L326.1,1007.5 L328.1,1007.6 L330.1,1007.8 L332.1,1007.9 L334.1,1008.1 L336.0,1008.3 L337.7,1009.1 L339.0,1010.7 L340.2,1012.2 L341.7,1013.5 L343.6,1013.8 L345.6,1014.0 L347.6,1014.2 L349.5,1014.4 L351.5,1014.5 L353.5,1014.7 L355.5,1014.8 L357.5,1015.0 L359.5,1015.2 L361.5,1015.3 L363.5,1015.4 L365.5,1015.5 L367.5,1015.5 L369.5,1015.6 L371.5,1015.6 L373.5,1015.6 L375.5,1015.7 L377.5,1015.7 L379.5,1015.7 L381.5,1015.7 L383.5,1015.7 L385.5,1015.7 L387.5,1015.7 L389.5,1015.7 L391.5,1015.7 L393.5,1015.8 L395.5,1015.8 L397.5,1015.8 L399.5,1015.8 L401.5,1015.8 L403.5,1015.8 L405.5,1015.8 L407.5,1015.8 L409.5,1015.8 L411.5,1015.9 L413.5,1015.9 L415.5,1015.9 L417.5,1015.9 L419.5,1015.9 L421.5,1015.9 L423.5,1015.9 L425.5,1015.9 L427.5,1015.9 L429.5,1016.0 L431.5,1016.0 L433.5,1016.0 L435.5,1016.0 L437.5,1016.1 L439.5,1016.1 L441.5,1016.2 L443.5,1016.3 L445.5,1016.3 L447.5,1016.4 L449.5,1016.5 L451.5,1016.6 L453.5,1016.7 L455.5,1016.8 L457.5,1017.0 L459.5,1017.1 L461.5,1017.2 L463.5,1017.3 L465.5,1017.4 L467.5,1017.5 L469.5,1017.7 L471.5,1017.8 L473.5,1018.0 L475.5,1018.1 L477.5,1018.2 L479.5,1018.4 L481.5,1018.5 L483.5,1018.7 L485.5,1018.8 L487.5,1019.0 L489.5,1019.2 L491.4,1019.3 L493.4,1019.5 L495.4,1019.7 L497.4,1019.9 L499.4,1020.1 L501.4,1020.3 L503.4,1020.6 L505.4,1020.9 L507.3,1021.2 L509.3,1021.5 L511.3,1021.9 L513.2,1022.3 L515.1,1022.8 L517.1,1023.2 L519.0,1023.8 L520.9,1024.4 L522.8,1025.0 L524.6,1025.7 L526.5,1026.4 L528.3,1027.2 L530.1,1028.1 L531.9,1029.0 L533.6,1029.9 L535.3,1031.0 L536.9,1032.1 L538.5,1033.2 L540.1,1034.4 L541.6,1035.7 L543.1,1037.1 L544.5,1038.4 L545.8,1039.9 L547.1,1041.4 L548.4,1042.9 L549.6,1044.5 L550.8,1046.1 L551.9,1047.7 L553.0,1049.4 L554.1,1051.1 L555.1,1052.8 L556.2,1054.5 L557.2,1056.2 L558.2,1057.9 L559.1,1059.7 L560.1,1061.4 L561.1,1063.2 L562.0,1065.0 L562.9,1066.7 L563.7,1068.5 L564.6,1070.3 L565.4,1072.2 L566.1,1074.0 L566.8,1075.9 L567.5,1077.8 L568.2,1079.6 L568.8,1081.5 L569.4,1083.4 L570.1,1085.3 L570.7,1087.2 L571.3,1089.1 L571.9,1091.0 L572.5,1093.0 L573.1,1094.9 L573.6,1096.8 L574.2,1098.7 L574.7,1100.6 L575.2,1102.6 L575.7,1104.5 L576.1,1106.5 L576.5,1108.4 L577.0,1110.4 L577.4,1112.3 L577.8,1114.3 L578.2,1116.3 L578.5,1118.2 L578.9,1120.2 L579.3,1122.2 L579.7,1124.1 L580.1,1126.1 L580.4,1128.0 L580.8,1130.0 L581.2,1132.0 L581.6,1133.9 L582.0,1135.9 L582.3,1137.9 L582.7,1139.8 L583.1,1141.8 L583.5,1143.8 L583.9,1145.7 L584.3,1147.7 L584.6,1149.7 L585.0,1151.6 L585.5,1153.6 L585.9,1155.5 L586.3,1157.5 L586.7,1159.4 L587.2,1161.4 L587.6,1163.3 L588.1,1165.3 L588.6,1167.2 L589.0,1169.2 L589.5,1171.1 L590.0,1173.1 L590.5,1175.0 L591.0,1176.9 L591.5,1178.9 L592.0,1180.8 L592.5,1182.8 L593.0,1184.7 L593.5,1186.6 L594.0,1188.5 L594.5,1190.5 L595.1,1192.4 L595.6,1194.3 L596.2,1196.3 L596.7,1198.2 L597.3,1200.1 L597.9,1202.0 L598.5,1203.9 L599.1,1205.8 L599.7,1207.7 L600.3,1209.6 L600.9,1211.6 L601.5,1213.5 L602.1,1215.4 L602.7,1217.3 L603.3,1219.2 L603.9,1221.1 L604.5,1223.0 L605.2,1224.9 L605.8,1226.8 L606.4,1228.7 L607.0,1230.6 L607.6,1232.5 L608.3,1234.4 L608.9,1236.3 L609.6,1238.2 L610.3,1240.1 L611.0,1241.9 L611.6,1243.8 L612.4,1245.7 L613.1,1247.5 L613.9,1249.4 L614.6,1251.2 L615.4,1253.1 L616.2,1254.9 L617.1,1256.7 L617.9,1258.5 L618.8,1260.3 L619.7,1262.1 L620.6,1263.9 L621.5,1265.7 L622.4,1267.5 L623.3,1269.2 L624.3,1271.0 L625.2,1272.7 L626.2,1274.5 L627.2,1276.2 L628.2,1277.9 L629.3,1279.6 L630.4,1281.2 L631.6,1282.8 L632.8,1284.4 L634.0,1286.0 L635.3,1287.5 L636.6,1289.0 L638.0,1290.5 L639.3,1291.9 L640.7,1293.4 L642.1,1294.8 L643.5,1296.2 L645.0,1297.6 L646.4,1298.9 L647.9,1300.3 L649.5,1301.6 L651.0,1302.8 L652.5,1304.1 L654.1,1305.4 L655.7,1306.6 L657.2,1307.8 L658.8,1309.0 L660.4,1310.2 L662.1,1311.4 L663.7,1312.6 L665.3,1313.7 L666.9,1314.9 L668.6,1316.0 L670.2,1317.2 L671.9,1318.3 L673.6,1319.4 L675.2,1320.4 L677.0,1321.5 L678.7,1322.5 L680.4,1323.4 L682.2,1324.4 L684.0,1325.3 L685.7,1326.2 L687.5,1327.1 L689.4,1327.9 L691.2,1328.8 L693.0,1329.6 L694.8,1330.4 L696.7,1331.2 L698.5,1332.0 L700.3,1332.7 L702.2,1333.5 L704.0,1334.3 L705.9,1335.1 L707.7,1335.8 L709.6,1336.6 L711.4,1337.4 L713.2,1338.2 L715.1,1339.0 L716.9,1339.9 L718.7,1340.7 L720.5,1341.6 L722.3,1342.5 L724.1,1343.4 L725.8,1344.3 L727.6,1345.2 L729.4,1346.1 L731.2,1347.1 L732.9,1348.0 L734.7,1349.0 L736.4,1349.9 L738.2,1350.9 L739.9,1351.9 L741.7,1352.9 L743.4,1353.9 L745.1,1354.9 L746.8,1355.9 L748.5,1356.9 L750.2,1358.0 L751.9,1359.1 L753.6,1360.2 L755.2,1361.3 L756.9,1362.4 L758.5,1363.6 L760.1,1364.8 L761.7,1366.1 L763.2,1367.3 L764.7,1368.6 L766.3,1369.9 L767.8,1371.2 L769.3,1372.5 L770.7,1373.9 L772.2,1375.3 L773.6,1376.7 L774.9,1378.1 L776.3,1379.6 L777.6,1381.1 L778.8,1382.6 L780.1,1384.2 L781.2,1385.8 L782.4,1387.5 L783.5,1389.1 L784.6,1390.8 L785.6,1392.5 L786.7,1394.2 L787.7,1395.9 L788.7,1397.6 L789.7,1399.4 L790.7,1401.1 L791.7,1402.8 L792.6,1404.6 L793.5,1406.4 L794.4,1408.2 L795.3,1409.9 L796.2,1411.8 L797.0,1413.6 L797.9,1415.4 L798.7,1417.2 L799.5,1419.0 L800.3,1420.9 L801.1,1422.7 L801.9,1424.5 L802.7,1426.4 L803.4,1428.2 L804.1,1430.1 L804.9,1432.0 L805.6,1433.8 L806.3,1435.7 L807.0,1437.6 L807.7,1439.5 L808.3,1441.3 L809.0,1443.2 L809.6,1445.1 L810.2,1447.0 L810.8,1448.9 L811.4,1450.9 L811.9,1452.8 L812.5,1454.7 L813.1,1456.6 L813.6,1458.5 L814.2,1460.5 L814.7,1462.4 L815.2,1464.3 L815.8,1466.2 L816.3,1468.2 L816.9,1470.1 L817.4,1472.0 L818.0,1473.9 L818.5,1475.9 L819.1,1477.8 L819.7,1479.7 L820.2,1481.6 L820.8,1483.5 L821.4,1485.5 L822.0,1487.4 L822.5,1489.3 L823.1,1491.2 L823.7,1493.1 L824.3,1495.0 L824.9,1496.9 L825.5,1498.8 L826.1,1500.8 L826.7,1502.7 L827.3,1504.6 L827.9,1506.5 L828.5,1508.4 L829.2,1510.3 L829.8,1512.2 L830.4,1514.1 L831.1,1516.0 L831.7,1517.9 L832.3,1519.8 L833.0,1521.7 L833.6,1523.6 L834.3,1525.4 L834.9,1527.3 L835.6,1529.2 L836.3,1531.1 L836.9,1533.0 L837.6,1534.9 L838.3,1536.8 L839.0,1538.6 L839.7,1540.5 L840.4,1542.4 L841.1,1544.3 L841.8,1546.1 L842.5,1548.0 L843.3,1549.8 L844.0,1551.7 L844.8,1553.5 L845.6,1555.4 L846.4,1557.2 L847.3,1559.0 L848.1,1560.8 L848.9,1562.7 L849.7,1564.5 L850.5,1566.3 L851.3,1568.1 L852.1,1570.0 L852.9,1571.8 L853.7,1573.7 L854.4,1575.5 L855.2,1577.4 L855.9,1579.2 L856.7,1581.1 L857.4,1582.9 L858.2,1584.8 L859.0,1586.6 L859.8,1588.4 L860.6,1590.2 L861.5,1592.0 L862.5,1593.8 L863.4,1595.5 L864.5,1597.2 L865.6,1598.8 L866.7,1600.5 L867.8,1602.1 L869.0,1603.7 L870.2,1605.3 L871.4,1606.9 L872.7,1608.5 L873.9,1610.1 L875.2,1611.6 L876.4,1613.2 L877.7,1614.7 L879.0,1616.2 L880.3,1617.8 L881.6,1619.3 L882.9,1620.8 L884.2,1622.3 L885.6,1623.7 L887.0,1625.1 L888.5,1626.5 L889.9,1627.8 L891.5,1629.0 L893.0,1630.2 L894.7,1631.4 L896.3,1632.4 L898.0,1633.5 L899.7,1634.4 L901.5,1635.3 L903.3,1636.1 L905.1,1636.8 L907.0,1637.5 L908.9,1638.1 L910.7,1638.6 L912.5,1639.1 L914.2,1639.6 L915.9,1639.9 L917.4,1640.3 L918.7,1640.5 L922.5,1641.2" class="c" stroke="#000"/>
<path d="M320.1,1007.0 L322.1,1007.1 L324.1,1007.1 L326.1,1007.2 L328.1,1007.2 L330.1,1007.3 L332.1,1007.4 L334.1,1007.6 L336.1,1007.9 L337.8,1008.7 L339.4,1009.9 L341.0,1011.1 L342.8,1011.5 L344.8,1011.5 L346.8,1011.5 L348.8,1011.5 L350.8,1011.5 L352.8,1011.5 L354.8,1011.5 L356.9,1011.5 L358.9,1011.5 L360.9,1011.5 L362.9,1011.6 L364.9,1011.6 L366.9,1011.6 L368.9,1011.6 L370.9,1011.6 L372.9,1011.6 L374.9,1011.6 L376.9,1011.6 L378.9,1011.6 L380.9,1011.6 L382.9,1011.6 L384.9,1011.6 L386.9,1011.6 L388.9,1011.7 L390.9,1011.7 L392.9,1011.7 L394.9,1011.7 L396.9,1011.7 L398.9,1011.7 L400.9,1011.7 L402.9,1011.7 L404.9,1011.7 L406.9,1011.8 L408.9,1011.8 L410.9,1011.8 L412.9,1011.8 L414.9,1011.8 L416.9,1011.8 L418.9,1011.8 L420.9,1011.8 L422.9,1011.8 L424.9,1011.9 L426.9,1011.9 L428.9,1011.9 L430.9,1011.9 L432.9,1011.9 L434.9,1011.9 L436.9,1011.9 L438.9,1011.9 L440.9,1012.0 L442.9,1012.0 L444.9,1012.0 L446.9,1012.0 L448.9,1012.1 L450.9,1012.1 L452.9,1012.2 L454.9,1012.2 L456.9,1012.3 L458.9,1012.4 L460.9,1012.5 L462.9,1012.5 L464.9,1012.6 L466.9,1012.7 L468.9,1012.8 L470.9,1012.9 L472.9,1013.0 L474.9,1013.1 L476.9,1013.2 L478.9,1013.3 L480.9,1013.5 L482.9,1013.6 L484.9,1013.8 L486.8,1013.9 L488.8,1014.1 L490.8,1014.3 L492.8,1014.6 L494.8,1014.8 L496.8,1015.0 L498.8,1015.3 L500.8,1015.5 L502.8,1015.7 L504.7,1016.0 L506.7,1016.3 L508.7,1016.6 L510.7,1016.9 L512.6,1017.2 L514.6,1017.6 L516.5,1018.1 L518.4,1018.6 L520.3,1019.2 L522.1,1019.8 L524.0,1020.6 L525.8,1021.4 L527.6,1022.2 L529.3,1023.1 L531.1,1024.1 L532.8,1025.1 L534.5,1026.2 L536.1,1027.3 L537.7,1028.5 L539.3,1029.7 L540.8,1030.9 L542.3,1032.2 L543.8,1033.6 L545.2,1035.0 L546.5,1036.4 L547.8,1037.9 L549.1,1039.4 L550.3,1041.0 L551.5,1042.6 L552.6,1044.2 L553.7,1045.9 L554.8,1047.6 L555.8,1049.3 L556.7,1051.1 L557.6,1052.8 L558.5,1054.6 L559.3,1056.4 L560.1,1058.3 L560.8,1060.1 L561.5,1062.0 L562.2,1063.9 L562.9,1065.8 L563.5,1067.7 L564.1,1069.6 L564.7,1071.5 L565.3,1073.4 L565.8,1075.3 L566.4,1077.2 L566.9,1079.2 L567.4,1081.1 L568.0,1083.0 L568.4,1085.0 L568.9,1086.9 L569.4,1088.9 L569.8,1090.8 L570.3,1092.8 L570.7,1094.7 L571.1,1096.7 L571.6,1098.6 L572.0,1100.6 L572.4,1102.5 L572.8,1104.5 L573.2,1106.4 L573.6,1108.4 L574.0,1110.4 L574.4,1112.3 L574.8,1114.3 L575.2,1116.3 L575.6,1118.2 L575.9,1120.2 L576.3,1122.2 L576.7,1124.1 L577.1,1126.1 L577.4,1128.1 L577.8,1130.0 L578.1,1132.0 L578.5,1134.0 L578.9,1135.9 L579.2,1137.9 L579.6,1139.9 L580.0,1141.8 L580.3,1143.8 L580.7,1145.8 L581.1,1147.7 L581.5,1149.7 L581.8,1151.7 L582.1,1153.6 L582.5,1155.6 L582.8,1157.6 L583.1,1159.5 L583.4,1161.5 L583.7,1163.5 L584.0,1165.5 L584.3,1167.5 L584.6,1169.4 L584.9,1171.4 L585.2,1173.4 L585.5,1175.4 L585.8,1177.3 L586.2,1179.3 L586.5,1181.3 L586.9,1183.3 L587.2,1185.2 L587.6,1187.2 L588.1,1189.1 L588.5,1191.1 L588.9,1193.0 L589.4,1195.0 L589.8,1196.9 L590.3,1198.9 L590.8,1200.8 L591.3,1202.8 L591.8,1204.7 L592.3,1206.6 L592.8,1208.6 L593.3,1210.5 L593.9,1212.4 L594.4,1214.4 L594.9,1216.3 L595.5,1218.2 L596.0,1220.1 L596.6,1222.1 L597.2,1224.0 L597.7,1225.9 L598.3,1227.8 L598.9,1229.7 L599.5,1231.6 L600.1,1233.5 L600.7,1235.4 L601.3,1237.3 L601.9,1239.2 L602.5,1241.1 L603.2,1243.0 L603.8,1244.9 L604.5,1246.8 L605.1,1248.7 L605.7,1250.6 L606.4,1252.5 L607.0,1254.4 L607.7,1256.3 L608.3,1258.2 L609.0,1260.1 L609.7,1262.0 L610.3,1263.9 L611.0,1265.7 L611.7,1267.6 L612.4,1269.5 L613.2,1271.3 L613.9,1273.2 L614.7,1275.1 L615.4,1276.9 L616.2,1278.7 L617.1,1280.5 L617.9,1282.4 L618.8,1284.2 L619.7,1285.9 L620.6,1287.7 L621.5,1289.5 L622.5,1291.2 L623.5,1292.9 L624.6,1294.6 L625.7,1296.2 L626.9,1297.8 L628.2,1299.3 L629.5,1300.8 L630.8,1302.3 L632.2,1303.7 L633.6,1305.1 L635.0,1306.6 L636.4,1308.0 L637.8,1309.3 L639.3,1310.7 L640.8,1312.1 L642.3,1313.4 L643.8,1314.6 L645.4,1315.9 L646.9,1317.1 L648.6,1318.2 L650.2,1319.3 L651.9,1320.4 L653.6,1321.4 L655.4,1322.4 L657.1,1323.3 L658.9,1324.3 L660.7,1325.2 L662.5,1326.0 L664.3,1326.9 L666.1,1327.7 L667.9,1328.5 L669.8,1329.3 L671.6,1330.1 L673.4,1330.9 L675.3,1331.7 L677.1,1332.5 L678.9,1333.3 L680.8,1334.1 L682.6,1334.9 L684.4,1335.7 L686.3,1336.4 L688.1,1337.2 L690.0,1338.0 L691.8,1338.7 L693.7,1339.4 L695.5,1340.1 L697.4,1340.9 L699.3,1341.6 L701.1,1342.3 L703.0,1343.1 L704.8,1343.8 L706.7,1344.6 L708.5,1345.4 L710.4,1346.2 L712.2,1347.0 L714.0,1347.8 L715.8,1348.6 L717.7,1349.5 L719.5,1350.3 L721.3,1351.2 L723.1,1352.0 L724.9,1352.9 L726.7,1353.8 L728.5,1354.7 L730.2,1355.6 L732.0,1356.5 L733.8,1357.5 L735.5,1358.4 L737.3,1359.4 L739.0,1360.4 L740.7,1361.4 L742.4,1362.5 L744.1,1363.5 L745.8,1364.6 L747.5,1365.7 L749.1,1366.8 L750.8,1367.9 L752.4,1369.1 L754.0,1370.3 L755.6,1371.5 L757.2,1372.7 L758.8,1373.9 L760.4,1375.1 L761.9,1376.4 L763.5,1377.7 L765.0,1379.0 L766.5,1380.3 L767.9,1381.7 L769.3,1383.1 L770.7,1384.5 L772.0,1386.0 L773.2,1387.5 L774.4,1389.1 L775.5,1390.7 L776.6,1392.4 L777.6,1394.1 L778.7,1395.8 L779.7,1397.5 L780.7,1399.3 L781.6,1401.0 L782.6,1402.7 L783.6,1404.5 L784.6,1406.2 L785.5,1408.0 L786.4,1409.8 L787.4,1411.5 L788.3,1413.3 L789.2,1415.1 L790.1,1416.9 L790.9,1418.7 L791.7,1420.5 L792.6,1422.4 L793.4,1424.2 L794.2,1426.0 L795.0,1427.9 L795.7,1429.7 L796.5,1431.5 L797.3,1433.4 L798.0,1435.2 L798.8,1437.1 L799.5,1439.0 L800.2,1440.8 L800.9,1442.7 L801.6,1444.6 L802.3,1446.5 L802.9,1448.4 L803.6,1450.2 L804.3,1452.1 L804.9,1454.0 L805.6,1455.9 L806.2,1457.8 L806.8,1459.7 L807.5,1461.6 L808.0,1463.5 L808.6,1465.4 L809.2,1467.4 L809.7,1469.3 L810.2,1471.2 L810.6,1473.2 L811.1,1475.1 L811.5,1477.1 L811.9,1479.0 L812.3,1481.0 L812.8,1482.9 L813.2,1484.9 L813.6,1486.8 L814.0,1488.8 L814.5,1490.7 L814.9,1492.7 L815.4,1494.6 L815.9,1496.6 L816.4,1498.5 L816.9,1500.4 L817.5,1502.4 L818.0,1504.3 L818.6,1506.2 L819.1,1508.1 L819.7,1510.1 L820.3,1512.0 L820.9,1513.9 L821.5,1515.8 L822.1,1517.7 L822.8,1519.6 L823.4,1521.5 L824.1,1523.4 L824.7,1525.3 L825.4,1527.1 L826.0,1529.0 L826.7,1530.9 L827.4,1532.8 L828.0,1534.7 L828.7,1536.6 L829.4,1538.4 L830.1,1540.3 L830.8,1542.2 L831.5,1544.1 L832.2,1545.9 L832.9,1547.8 L833.7,1549.7 L834.4,1551.5 L835.2,1553.4 L836.0,1555.2 L836.8,1557.0 L837.6,1558.9 L838.4,1560.7 L839.2,1562.5 L840.0,1564.4 L840.8,1566.2 L841.6,1568.0 L842.5,1569.8 L843.3,1571.7 L844.1,1573.5 L845.0,1575.3 L845.8,1577.1 L846.7,1578.9 L847.6,1580.7 L848.5,1582.5 L849.4,1584.3 L850.3,1586.0 L851.2,1587.8 L852.2,1589.5 L853.2,1591.2 L854.3,1592.9 L855.4,1594.6 L856.5,1596.2 L857.7,1597.9 L858.9,1599.5 L860.1,1601.1 L861.3,1602.6 L862.6,1604.2 L863.8,1605.7 L865.1,1607.3 L866.4,1608.8 L867.7,1610.3 L869.1,1611.8 L870.4,1613.2 L871.8,1614.7 L873.2,1616.1 L874.6,1617.6 L876.0,1619.0 L877.4,1620.4 L878.8,1621.8 L880.3,1623.1 L881.8,1624.4 L883.3,1625.7 L884.9,1627.0 L886.4,1628.2 L888.1,1629.3 L889.7,1630.4 L891.4,1631.5 L893.1,1632.5 L894.9,1633.4 L896.6,1634.3 L898.4,1635.1 L900.3,1635.8 L902.1,1636.5 L904.0,1637.1 L905.9,1637.7 L907.8,1638.2 L909.7,1638.7 L911.5,1639.2 L913.3,1639.6 L915.0,1639.9 L916.6,1640.3 L918.0,1640.5 L919.2,1640.7 L922.5,1641.2" class="c" stroke="#1c6bd8"/>
<line x1="633.5" y1="994.6" x2="724.5" y2="994.6" stroke="#000" stroke-width="4"/>
<line x1="633.5" y1="1042.6" x2="724.5" y2="1042.6" stroke="#1c6bd8" stroke-width="4"/>
<g transform="translate(733.3 1007.5)"><g transform="scale(1 1.03)"><text x="0.00" y="0" class="lg" style="font-size:39.7px;" transform="scale(1 1.035)">P</text><text x="26.48" y="0" class="lg" style="font-size:39.7px;">ropeller</text></g></g>
<g transform="translate(733.3 1055.3)"><g transform="scale(1 1.03)"><text x="0.00" y="0" class="lg lb" style="font-size:39.7px;" transform="scale(1 1.035)">D</text><text x="28.67" y="0" class="lg lb" style="font-size:39.7px;">ispersed turbine</text></g></g>
<g transform="translate(419.74 882.4)"><g transform="scale(1 1.0)"><text x="0.00" y="0" class="at" style="font-size:56.3px;" transform="scale(1 1.045)">T</text><text x="34.39" y="0" class="at" style="font-size:56.3px;">emperature</text></g></g>
<g><path d="M769.5,842.1 A38,38 0 0,0 769.5,894 L773.1,893.8 A43.5,43.5 0 0,1 773.1,842.3 Z"/><path d="M836.7,842.1 A37.6,37.6 0 0,1 836.7,894 L833.5,893.8 A46.1,46.1 0 0,0 833.5,842.2 Z"/><path d="M823.42,855.8 A16,19.7 0 1,0 823.49,869.8 L819.1,868.8 L819.1,874.26 A13.2,17 0 1,1 819.1,850.14 L819.1,855.9 Z"/><ellipse cx="788.85" cy="844.8" rx="4.55" ry="5" fill="none" stroke="#000" stroke-width="1.8"/></g>
<g transform="translate(418.64 1775.3)"><g transform="scale(1 1.0)"><text x="0.00" y="0" class="at" style="font-size:56.3px;" transform="scale(1 1.045)">T</text><text x="34.39" y="0" class="at" style="font-size:56.3px;">emperature</text></g></g>
<g transform="translate(-1.3 893.2)"><path d="M769.5,842.1 A38,38 0 0,0 769.5,894 L773.1,893.8 A43.5,43.5 0 0,1 773.1,842.3 Z"/><path d="M836.7,842.1 A37.6,37.6 0 0,1 836.7,894 L833.5,893.8 A46.1,46.1 0 0,0 833.5,842.2 Z"/><path d="M823.42,855.8 A16,19.7 0 1,0 823.49,869.8 L819.1,868.8 L819.1,874.26 A13.2,17 0 1,1 819.1,850.14 L819.1,855.9 Z"/><ellipse cx="788.85" cy="844.8" rx="4.55" ry="5" fill="none" stroke="#000" stroke-width="1.8"/></g>
<g transform="translate(95.7 580.2) rotate(-90)"><g transform="scale(1 1.0)"><text x="0.00" y="0" class="at" style="font-size:56.5px;" transform="scale(1 1.045)">H</text><text x="40.80" y="0" class="at" style="font-size:56.5px;">eat </text><text x="135.04" y="0" class="at" style="font-size:56.5px;" transform="scale(1 1.045)">F</text><text x="169.56" y="0" class="at" style="font-size:56.5px;">low (</text><text x="288.85" y="0" class="at" style="font-size:56.5px;" transform="scale(1 1.045)">W</text><text x="342.17" y="0" class="at" style="font-size:56.5px;">/g)</text></g></g>
<g transform="translate(65.6 1415.35) rotate(-90)"><g transform="scale(1 1.0)"><text x="0.00" y="0" class="at" style="font-size:55.9px;" transform="scale(1 1.045)">W</text><text x="52.76" y="0" class="at" style="font-size:55.9px;">eight (%)</text></g></g>
<text transform="translate(-2.2 41.2) scale(1.07 1)" class="pl">(</text><text x="17.9" y="42.2" class="pl pl2">a</text><text transform="translate(47.9 41.2) scale(1.07 1)" class="pl">)</text>
<text transform="translate(-2.2 942.4) scale(1.07 1)" class="pl">(</text><text x="18.5" y="944.5" class="pl">b</text><text transform="translate(51.2 942.4) scale(1.07 1)" class="pl">)</text>
</svg>
</body></html>
